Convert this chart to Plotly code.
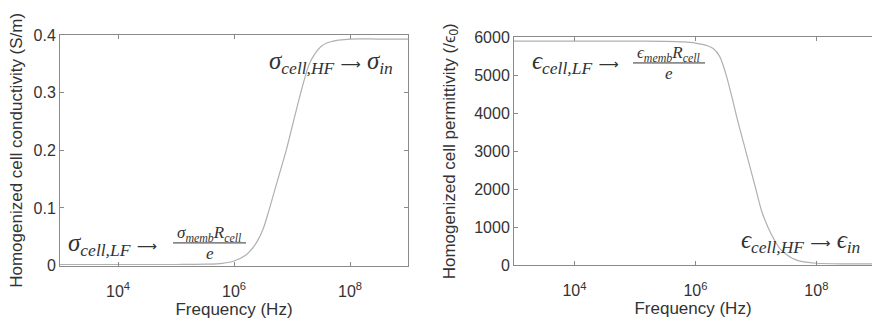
import plotly.graph_objects as go

# ---- data ----
log10_freq = [3.0, 4.0, 5.0, 5.5, 5.8, 6.0, 6.2, 6.3, 6.4, 6.5, 6.6, 6.7, 6.8, 6.9,
              7.0, 7.1, 7.2, 7.3, 7.4, 7.5, 7.6, 7.7, 7.8, 8.0, 8.5, 9.0]
conductivity = [0.002, 0.002, 0.002, 0.0025, 0.004, 0.008, 0.018, 0.028, 0.042, 0.063,
                0.095, 0.130, 0.165, 0.200, 0.240, 0.280, 0.318, 0.350, 0.368, 0.380,
                0.386, 0.389, 0.391, 0.393, 0.393, 0.393]
permittivity = [5900, 5900, 5900, 5895, 5880, 5850, 5780, 5700, 5500, 5050, 4450, 3800,
                3200, 2600, 2000, 1400, 1000, 680, 430, 290, 180, 120, 85, 50, 35, 35]
freq = [10 ** e for e in log10_freq]

x_tickvals = [1e4, 1e6, 1e8]
x_ticktext = ["10<sup>4</sup>", "10<sup>6</sup>", "10<sup>8</sup>"]
cond_ticks = [0, 0.1, 0.2, 0.3, 0.4]
cond_ticktext = ["0", "0.1", "0.2", "0.3", "0.4"]
perm_ticks = [0, 1000, 2000, 3000, 4000, 5000, 6000]
perm_ticktext = ["0", "1000", "2000", "3000", "4000", "5000", "6000"]

W, H = 872, 322
TXT = "#333333"
AX = "#8a8a8a"
CURVE = "#b0b0b0"
SANS = "Liberation Sans, Arial, sans-serif"
SERIF = "Liberation Serif, DejaVu Serif, Times New Roman, serif"
ARROW = '<span style="font-family:DejaVu Sans;font-size:14px">\u27f6</span>'

def px(x):
    return x / W

def py(y):
    return 1 - y / H

fig = go.Figure()
fig.add_trace(go.Scatter(x=freq, y=conductivity, mode="lines", line=dict(color=CURVE, width=1.2, shape="spline", smoothing=1.0),
                         xaxis="x", yaxis="y", showlegend=False, hoverinfo="skip"))
fig.add_trace(go.Scatter(x=freq, y=permittivity, mode="lines", line=dict(color=CURVE, width=1.2, shape="spline", smoothing=1.0),
                         xaxis="x2", yaxis="y2", showlegend=False, hoverinfo="skip"))

axis_common = dict(showgrid=False, zeroline=False, showline=True, linecolor=AX, linewidth=1,
                   ticks="inside", ticklen=4, tickcolor=AX, tickwidth=1,
                   tickfont=dict(family=SANS, size=16, color=TXT))
TITLE_FONT = dict(family=SANS, size=17, color=TXT)

fig.update_layout(
    width=W, height=H,
    margin=dict(l=0, r=0, t=0, b=0),
    paper_bgcolor="white", plot_bgcolor="white",
    xaxis=dict(domain=[px(60), px(408)], type="log", range=[3, 9], anchor="y",
               tickvals=x_tickvals, ticktext=x_ticktext, mirror="ticks", ticklabelstandoff=11,
               title=dict(text="Frequency (Hz)", font=TITLE_FONT, standoff=1),
               **axis_common),
    yaxis=dict(domain=[py(272), py(28.5)], range=[0, 0.4], anchor="x",
               tickvals=cond_ticks, ticktext=cond_ticktext, mirror="ticks",
               title=dict(text="Homogenized cell conductivity (S/m)", font=TITLE_FONT, standoff=6),
               **axis_common),
    xaxis2=dict(domain=[px(514), 1.0], type="log", range=[3, 8.92], anchor="y2",
                tickvals=x_tickvals, ticktext=x_ticktext, mirror="ticks", ticklabelstandoff=11,
                title=dict(text="Frequency (Hz)", font=TITLE_FONT, standoff=1),
                **axis_common),
    yaxis2=dict(domain=[py(271.5), py(31)], range=[0, 6000], anchor="x2",
                tickvals=perm_ticks, ticktext=perm_ticktext, mirror=False,
                title=dict(text="Homogenized cell permittivity (/\u03f5<sub>0</sub>)", font=TITLE_FONT, standoff=14),
                **axis_common),
)

def ann(x, y, text, size=25, xanchor="center"):
    fig.add_annotation(x=px(x), y=py(y), xref="paper", yref="paper", text=text, showarrow=False,
                       xanchor=xanchor, yanchor="middle",
                       font=dict(family=SERIF, size=size, color=TXT))

# left plot annotations
ann(331, 58, "<i>\u03c3<sub>cell,HF</sub></i> " + ARROW + " <i>\u03c3<sub>in</sub></i>")
ann(112, 250, "<i>\u03c3<sub>cell,LF</sub></i> " + ARROW)
ann(209, 238.5, "<i>\u03c3<sub>memb</sub>R<sub>cell</sub></i>", size=17)
ann(210, 259.5, "<i>e</i>", size=17)
fig.add_shape(type="line", xref="paper", yref="paper", x0=px(173), x1=px(246), y0=py(248), y1=py(248),
              line=dict(color=TXT, width=1))

# right plot annotations
ann(575, 58, "<i>\u03f5<sub>cell,LF</sub></i> " + ARROW)
ann(669, 48.5, "<i>\u03f5<sub>memb</sub>R<sub>cell</sub></i>", size=17)
ann(669, 69.5, "<i>e</i>", size=17)
fig.add_shape(type="line", xref="paper", yref="paper", x0=px(633), x1=px(705), y0=py(58), y1=py(58),
              line=dict(color=TXT, width=1))
ann(801, 247, "<i>\u03f5<sub>cell,HF</sub></i> " + ARROW + " <i>\u03f5<sub>in</sub></i>")

fig.write_html("out.html")
